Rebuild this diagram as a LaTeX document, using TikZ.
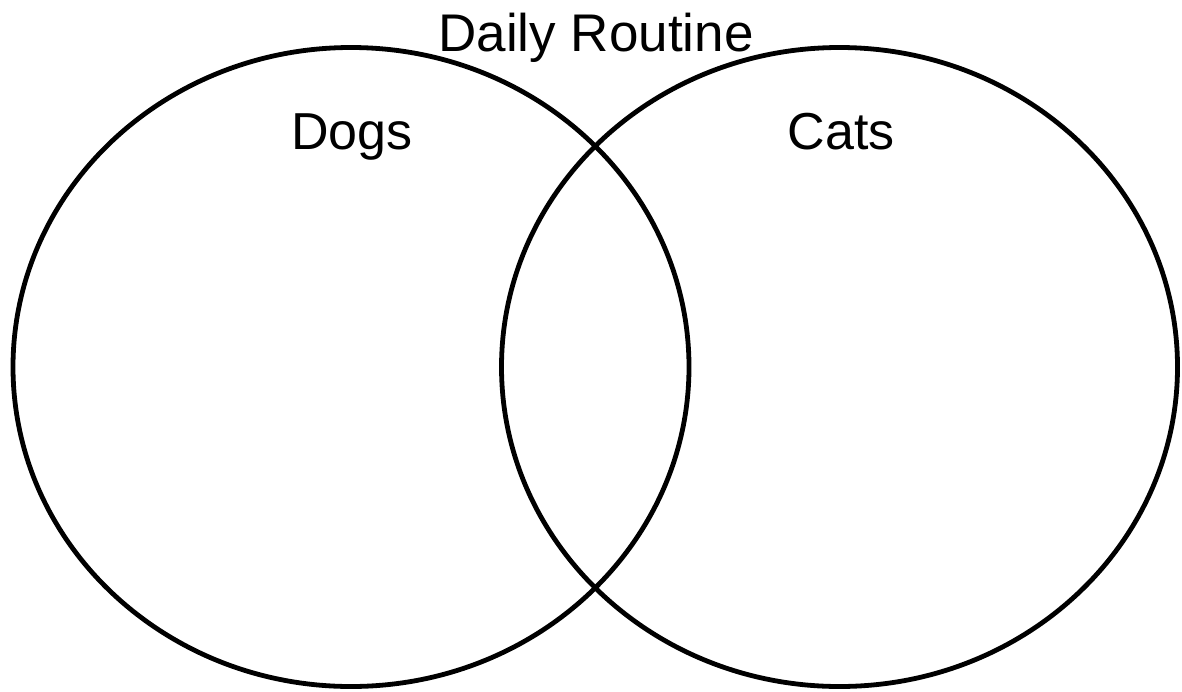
\documentclass[tikz,border=0pt]{standalone}
\usepackage{fontspec}
\setmainfont{Liberation Sans}
\usetikzlibrary{positioning}
\usetikzlibrary{shapes.geometric}

\begin{document}
\begin{tikzpicture}[
    x=0.5pt, y=-0.5pt,
    set/.style={ellipse, draw=black, line width=2.4pt, minimum width=338pt, minimum height=319.5pt, inner sep=0pt},
    setlabel/.style={font=\fontsize{26}{30}\selectfont, inner sep=0pt, anchor=base},
]
    \useasboundingbox (0,0) rectangle (1182,691);

    \node[set] (dogs) at (351,367) {};
    \node[set] (cats) at (839.5,367) {};

    \node[setlabel] (dogslabel) at (352,149) {Dogs};
    \node[setlabel] (catslabel) at (841,149) {Cats};
    \node[setlabel, font=\fontsize{26.5}{30}\selectfont] (title) at (596,51) {Daily Routine};

\end{tikzpicture}
\end{document}
